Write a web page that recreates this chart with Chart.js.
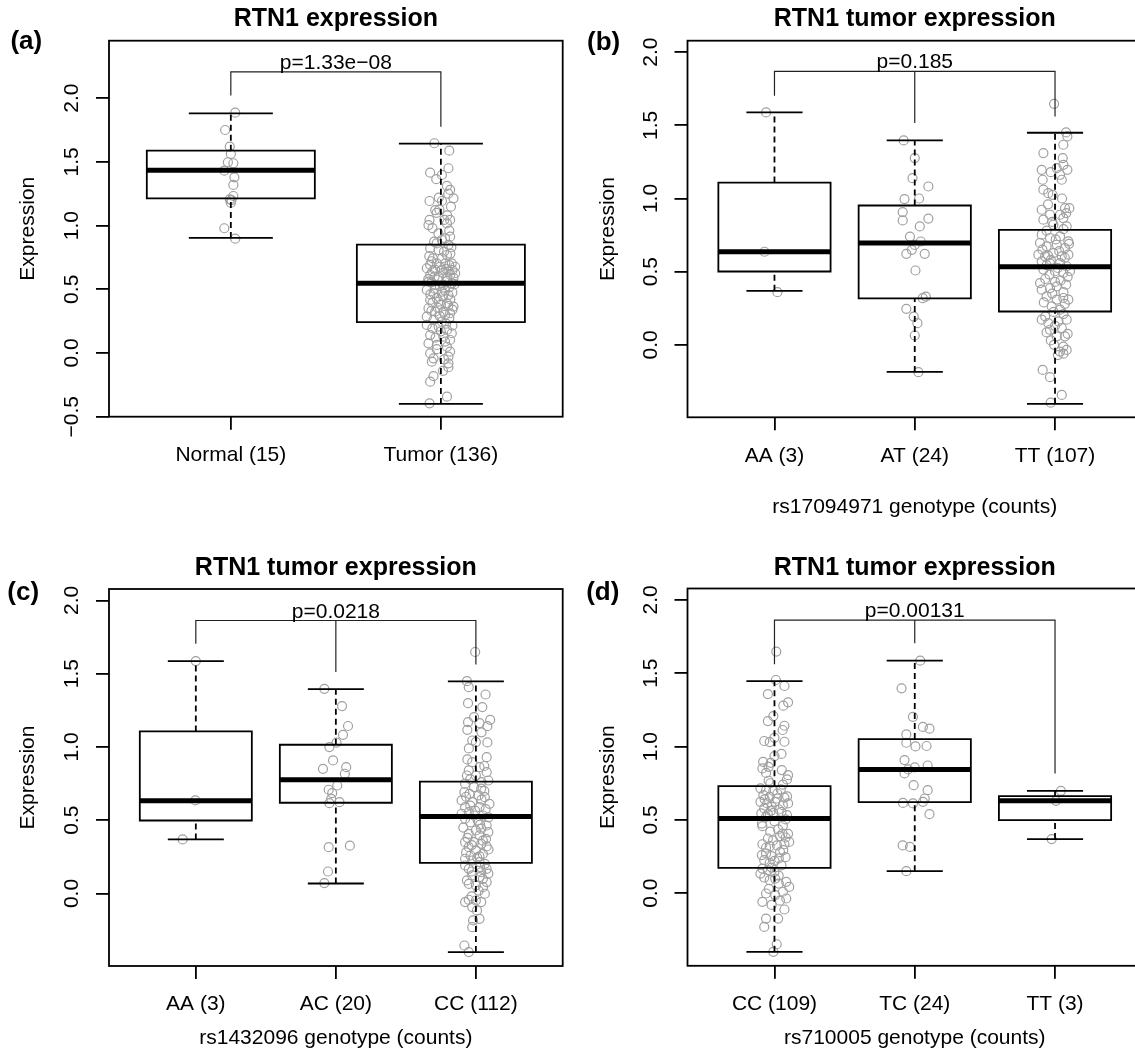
<!DOCTYPE html>
<html><head><meta charset="utf-8">
<script src="https://cdn.jsdelivr.net/npm/chart.js"></script>
<style>
html,body{margin:0;padding:0;background:#fff;overflow:hidden;}
#wrap{position:relative;width:1135px;height:1053px;overflow:hidden;background:#fff;}
#wrap canvas{position:absolute;}
.plab{position:absolute;font:bold 26px "Liberation Sans",Arial,Helvetica,sans-serif;line-height:26px;color:#000;white-space:nowrap;}
</style></head><body>
<div id="wrap">
<div class="plab" style="left:10.4px;top:27.3px">(a)</div>
<div class="plab" style="left:587px;top:28.1px">(b)</div>
<div class="plab" style="left:7.3px;top:578.3px">(c)</div>
<div class="plab" style="left:586.2px;top:578.1px">(d)</div>
</div>
<script>
// ---------------- DATA ----------------
// (a) RTN1 expression
const aCategories = ['Normal (15)', 'Tumor (136)'];
const aYTicks = [-0.5, 0, 0.5, 1, 1.5, 2];
const aYTickLabels = ['\u22120.5', '0.0', '0.5', '1.0', '1.5', '2.0'];
const aYRange = [-0.5, 2.451];
const aLow = [0.903, -0.400];
const aQ1 = [1.214, 0.243];
const aMedian = [1.434, 0.547];
const aQ3 = [1.588, 0.850];
const aHigh = [1.881, 1.643];
const aBracketY = 2.206;
const aBracketEnds = [2.02, 1.776];
const aPText = 'p=1.33e\u221208';
const aNormalY = [1.886,1.750,1.620,1.562,1.497,1.489,1.431,1.379,1.319,1.232,1.206,1.180,1.200,0.979,0.897];
const aNormalJit = [0.021,-0.027,-0.005,0.000,-0.014,0.012,-0.031,0.017,0.012,0.012,-0.005,0.000,0.003,-0.031,0.021];
const aTumorY = [
1.646,1.588,1.415,1.450,1.364,1.397,1.311,1.280,1.214,1.193,
1.193,1.148,1.122,1.125,1.044,1.044,1.044,1.004,1.017,0.939,
0.913,0.874,0.887,0.848,0.822,0.808,0.769,0.743,0.743,0.691,
0.704,0.704,0.704,0.677,0.665,0.652,0.652,0.638,0.612,0.626,
0.599,0.586,0.560,0.534,0.534,0.547,0.495,0.469,0.481,0.455,
0.416,0.403,0.390,0.364,0.351,0.324,0.324,0.312,0.285,0.259,
0.246,0.220,0.207,0.181,0.155,0.141,0.128,0.102,0.076,0.063,
0.049,0.010,-0.003,-0.042,-0.029,-0.068,-0.081,-0.112,-0.181,-0.225,
-0.343,-0.395,
0.720,0.690,0.675,0.660,0.640,0.628,0.615,0.600,0.590,0.575,
0.565,0.555,0.540,0.525,0.515,0.505,0.490,0.475,0.460,0.445,
0.430,0.420,0.395,0.380,0.370,0.355,0.340,0.330,0.300,0.290,
0.270,0.230,0.215,0.195,0.170,0.120,0.090,0.030,0.780,0.760,
0.795,0.830,0.860,0.900,0.960,0.980,1.080,1.100,1.220,1.250,
-0.050,-0.140,0.650,0.580];
const aTumorJit = [
-0.031,0.040,-0.051,0.036,-0.022,0.005,0.029,0.044,0.060,-0.054,
0.005,0.048,-0.027,-0.007,-0.054,0.016,0.044,-0.059,0.029,-0.012,
0.044,-0.032,0.005,0.036,-0.051,-0.011,0.029,-0.038,0.005,-0.051,
-0.019,0.021,0.052,0.068,-0.067,-0.027,0.005,0.036,-0.051,0.068,
-0.011,0.029,-0.059,-0.027,0.012,0.052,-0.067,-0.035,0.005,0.036,
-0.051,-0.011,0.029,0.060,-0.059,-0.027,0.012,0.044,-0.067,-0.035,
0.005,-0.067,-0.011,0.029,0.052,-0.051,0.012,0.044,-0.059,-0.019,
0.029,0.044,-0.051,-0.035,0.036,-0.043,0.036,0.036,-0.035,-0.051,
0.029,-0.054,
-0.045,0.040,-0.005,0.025,-0.040,0.010,0.045,-0.030,0.060,-0.015,
0.030,-0.045,0.065,-0.005,0.040,-0.030,0.020,0.055,-0.050,0.010,
-0.020,0.045,-0.040,0.000,0.035,-0.015,0.055,-0.045,0.020,-0.005,
0.040,0.025,0.055,-0.040,0.000,-0.025,0.020,-0.020,0.045,-0.055,
0.015,0.050,-0.020,0.020,0.040,-0.040,0.030,-0.020,-0.010,0.035,
0.015,0.010,0.055,-0.060];

// shared tick set for tumor-genotype panels
const gYTicks = [0, 0.5, 1, 1.5, 2];
const gYTickLabels = ['0.0', '0.5', '1.0', '1.5', '2.0'];
const gYRange = [-0.495, 2.078];

// (b) rs17094971
const bCategories = ['AA (3)', 'AT (24)', 'TT (107)'];
const bLow = [0.369, -0.185, -0.403];
const bQ1 = [0.501, 0.317, 0.228];
const bMedian = [0.636, 0.695, 0.533];
const bQ3 = [1.109, 0.952, 0.786];
const bHigh = [1.588, 1.397, 1.449];
const bBracketY = 1.868;
const bBracketEnds = [1.702, 1.515, 1.56];
const bPText = 'p=0.185';
const bAAY = [1.588, 0.636, 0.360];
const bAAJit = [-0.060, -0.071, 0.021];
const bATY = [1.397,1.276,1.139,1.082,0.996,1.000,0.907,0.850,0.863,0.809,0.740,0.706,0.683,0.649,0.622,0.622,0.508,0.319,0.330,0.246,0.193,0.148,0.064,-0.187];
const bATJit = [-0.079,0,-0.016,0.097,-0.073,0.031,-0.086,-0.086,0.097,0.036,-0.034,0.043,0,-0.021,-0.060,0.071,0.005,0.057,0.079,-0.060,-0.007,0.019,0,0.026];
const bTTY = [
1.647,1.451,1.424,1.367,1.310,1.276,1.196,1.208,1.196,1.162,
1.128,1.128,1.060,1.036,1.025,0.923,0.934,0.934,0.889,0.889,
0.855,0.866,0.821,0.810,0.753,0.730,0.741,0.707,0.696,0.673,
0.684,0.661,0.616,0.605,0.627,0.605,0.616,0.571,0.559,0.559,
0.537,0.514,0.503,0.491,0.503,0.422,0.377,0.388,0.400,0.411,
0.331,0.309,0.320,0.309,0.263,0.240,0.172,0.149,0.161,0.172,
0.103,0.115,0.058,0.058,0.000,-0.012,-0.035,-0.046,-0.171,-0.221,
-0.342,-0.395,
0.720,0.650,0.640,0.595,0.580,0.545,0.525,0.480,0.465,0.450,
0.440,0.430,0.360,0.350,0.290,0.280,0.225,0.210,0.195,0.130,
0.085,0.075,0.030,-0.060,-0.070,0.780,0.790,0.840,0.900,0.960,
1.000,1.230,1.180,0.690,0.610];
const bTTJit = [
-0.007,0.079,0.088,0.059,-0.083,0.055,-0.095,0.012,0.088,0.036,
-0.088,0.048,-0.083,-0.048,-0.017,-0.095,0.071,0.102,-0.036,0.036,
-0.083,0.059,-0.012,0.083,-0.095,-0.036,0.036,0.095,-0.107,-0.060,
0.012,0.071,-0.119,-0.071,-0.012,0.048,0.095,-0.095,-0.036,0.036,
0.083,-0.083,0.000,0.059,0.107,-0.107,-0.095,-0.036,0.012,0.079,
-0.060,0.012,0.059,0.095,-0.024,0.036,-0.095,-0.048,0.024,0.083,
-0.036,0.048,0.012,0.071,-0.007,0.059,0.083,0.036,-0.088,-0.036,
0.048,-0.031,
0.005,-0.090,0.030,0.070,-0.030,-0.060,0.020,-0.040,0.090,-0.070,
0.040,0.000,0.060,-0.020,-0.080,0.070,-0.010,0.060,-0.070,0.000,
-0.060,0.090,-0.030,0.060,0.020,-0.060,0.060,-0.020,0.080,-0.050,
0.050,0.060,-0.030,0.100,-0.050];

// (c) rs1432096
const cCategories = ['AA (3)', 'AC (20)', 'CC (112)'];
const cLow = [0.369, 0.068, -0.400];
const cQ1 = [0.498, 0.619, 0.209];
const cMedian = [0.633, 0.776, 0.526];
const cQ3 = [1.106, 1.015, 0.764];
const cHigh = [1.586, 1.395, 1.447];
const cBracketY = 1.863;
const cBracketEnds = [1.705, 1.511, 1.562];
const cPText = 'p=0.0218';
const cAAY = [1.586, 0.635, 0.369];
const cAAJit = [0.000, -0.003, -0.094];
const cACY = [1.397,1.279,1.143,1.083,1.029,0.999,0.908,0.851,0.862,0.817,0.737,0.708,0.685,0.646,0.623,0.616,0.316,0.326,0.150,0.071];
const cACJit = [-0.082,0.044,0.087,0.051,0.005,-0.046,-0.020,-0.092,0.074,0.064,0.010,-0.051,-0.026,-0.033,0.026,-0.046,-0.051,0.100,-0.056,-0.082];
const cCCY = [
1.648,1.449,1.408,1.358,1.299,1.272,1.203,1.185,1.169,1.163,
1.142,1.117,1.044,1.033,1.031,0.930,0.915,0.896,0.862,0.840,
0.828,0.805,0.805,0.771,0.749,0.726,0.715,0.691,0.680,0.669,
0.657,0.635,0.623,0.612,0.589,0.589,0.555,0.544,0.532,0.532,
0.510,0.498,0.464,0.442,0.419,0.407,0.396,0.373,0.350,0.350,
0.339,0.316,0.321,0.294,0.259,0.253,0.237,0.225,0.214,0.191,
0.202,0.168,0.168,0.145,0.136,0.123,0.112,0.089,0.078,0.055,
0.043,-0.002,-0.043,-0.048,-0.059,-0.059,-0.093,-0.116,-0.173,-0.184,
-0.230,-0.355,-0.400,
0.700,0.660,0.640,0.600,0.575,0.565,0.520,0.485,0.470,0.450,
0.430,0.380,0.360,0.330,0.300,0.280,0.270,0.245,0.180,0.150,
0.100,0.065,0.020,0.780,0.760,0.870,0.990,1.100,-0.020];
const cCCJit = [
-0.005,-0.064,-0.051,0.069,-0.056,0.046,-0.013,0.102,-0.056,0.026,
0.082,-0.061,-0.026,0.000,0.082,0.077,-0.061,-0.026,0.026,-0.051,
0.077,0.000,-0.064,0.089,-0.077,-0.013,0.038,-0.082,-0.046,0.020,
0.064,-0.102,-0.026,0.097,-0.077,0.026,-0.051,-0.102,-0.013,0.051,
-0.077,0.013,0.077,0.038,0.089,-0.051,0.026,0.072,-0.077,-0.013,
0.038,-0.051,0.077,0.000,-0.038,0.026,-0.077,-0.026,0.026,-0.077,
0.064,-0.051,0.077,0.038,0.089,-0.026,0.026,-0.064,0.077,0.000,
0.051,0.064,-0.051,0.000,-0.077,0.038,-0.026,0.008,0.026,-0.020,
-0.026,-0.082,-0.051,
0.060,-0.070,0.040,-0.040,0.070,-0.005,0.090,-0.040,0.030,-0.090,
0.000,-0.060,0.050,-0.030,0.090,-0.070,0.050,0.010,0.030,-0.030,
0.050,-0.050,0.020,-0.040,0.040,0.060,-0.050,0.040,-0.030];

// (d) rs710005
const dCategories = ['CC (109)', 'TC (24)', 'TT (3)'];
const dLow = [-0.400, 0.150, 0.369];
const dQ1 = [0.173, 0.621, 0.498];
const dMedian = [0.510, 0.844, 0.630];
const dQ3 = [0.730, 1.051, 0.662];
const dHigh = [1.447, 1.586, 0.698];
const dBracketY = 1.863;
const dBracketEnds = [1.562, 1.705, 0.817];
const dPText = 'p=0.00131';
const dCCY = [
1.648,1.454,1.413,1.358,1.302,1.279,1.208,1.174,1.142,1.113,
1.038,1.031,1.033,0.935,0.896,0.889,0.851,0.862,0.840,0.805,
0.776,0.767,0.715,0.703,0.698,0.708,0.669,0.657,0.646,0.652,
0.623,0.612,0.623,0.612,0.578,0.562,0.571,0.544,0.539,0.548,
0.532,0.503,0.457,0.435,0.407,0.405,0.390,0.373,0.334,0.321,
0.326,0.334,0.350,0.294,0.271,0.253,0.237,0.246,0.225,0.207,
0.168,0.157,0.146,0.134,0.107,0.089,0.100,0.078,0.043,0.066,
-0.002,-0.013,-0.036,-0.051,-0.059,-0.111,-0.173,-0.173,-0.230,-0.348,
-0.400,
0.680,0.660,0.640,0.600,0.590,0.555,0.520,0.490,0.475,0.460,
0.420,0.380,0.360,0.310,0.280,0.260,0.220,0.190,0.175,0.120,
0.030,0.010,0.740,0.750,0.950,1.060,-0.080,0.820];
const dCCJit = [
0.013,0.010,0.071,-0.047,0.097,0.063,-0.008,-0.047,0.071,0.058,
-0.073,-0.034,0.071,0.000,-0.081,-0.026,-0.086,-0.042,0.052,0.097,
0.089,-0.042,-0.100,-0.060,-0.008,0.045,-0.079,-0.034,0.018,0.071,
-0.100,-0.052,0.005,0.097,-0.073,-0.026,0.031,-0.094,-0.047,-0.008,
0.089,0.079,-0.086,0.026,0.058,0.097,0.039,-0.047,-0.086,-0.034,
0.018,0.071,0.105,0.063,-0.060,-0.021,0.031,0.079,-0.073,-0.034,
-0.086,-0.047,0.000,-0.100,-0.073,-0.034,0.005,0.084,0.105,0.031,
-0.060,0.005,0.084,0.039,-0.086,0.071,0.026,-0.060,-0.073,0.016,
-0.008,
0.020,0.090,-0.070,0.060,-0.020,0.050,-0.060,0.000,-0.090,0.060,
-0.030,0.080,-0.010,-0.060,0.040,-0.090,0.000,0.050,-0.020,0.030,
-0.040,0.060,0.060,-0.030,0.050,0.000,-0.020,-0.060];
const dTCY = [1.586,1.397,1.203,1.134,1.122,1.083,1.026,1.001,1.004,0.908,0.858,0.871,0.817,0.844,0.737,0.703,0.646,0.616,0.612,0.623,0.539,0.326,0.316,0.150];
const dTCJit = [0.039,-0.094,-0.013,0.058,0.105,-0.060,-0.060,0.005,0.084,-0.073,0,0.092,-0.073,-0.047,-0.008,0.092,0.071,-0.084,-0.013,0.058,0.105,-0.086,-0.034,-0.060];
const dTTY = [0.698, 0.630, 0.369];
const dTTJit = [0.042, 0.007, -0.024];

// ---------------- STYLE / LAYOUT ----------------
const FONT = '"Liberation Sans", Arial, Helvetica, sans-serif';
const BASE = 21, TITLE_SIZE = 25;
const BOX_HALF = 0.4, STAPLE_HALF = 0.2;
const PT_COLOR = '#a0a0a0';
Chart.defaults.font.family = FONT;
Chart.defaults.color = '#000';

function measureWidest(labels) {
  const c = document.createElement('canvas').getContext('2d');
  c.font = BASE + 'px ' + FONT;
  return Math.max(...labels.map(s => c.measureText(s).width));
}

const framePlugin = {
  id: 'rframe',
  afterDraw(chart, args, opts) {
    const {ctx, chartArea: a, scales} = chart;
    ctx.save();
    ctx.lineWidth = 1.8; ctx.strokeStyle = '#000';
    ctx.strokeRect(a.left, a.top, a.right - a.left, a.bottom - a.top);
    ctx.font = BASE + 'px ' + FONT;
    ctx.fillStyle = '#000'; ctx.textAlign = 'center'; ctx.textBaseline = 'alphabetic';
    ctx.fillText(opts.text, scales.x.getPixelForValue(opts.x), scales.y.getPixelForValue(opts.y) - 3);
    ctx.restore();
  }
};

function buildPanel(p) {
  const L = p.layout;
  const cv = document.createElement('canvas');
  cv.width = L.W; cv.height = L.H;
  cv.style.left = L.left + 'px'; cv.style.top = L.top + 'px';
  cv.style.width = L.W + 'px'; cv.style.height = L.H + 'px';
  document.getElementById('wrap').insertBefore(cv, document.getElementById('wrap').firstChild);
  const n = p.categories.length;
  const ds = [];
  p.groupY.forEach((vals, i) => {
    ds.push({
      data: vals.map((v, k) => ({x: i + 1 + p.groupJit[i][k], y: v})),
      showLine: false, pointRadius: 4.5, pointHoverRadius: 4.5, pointBorderWidth: 1.2,
      pointBorderColor: PT_COLOR, pointBackgroundColor: 'rgba(0,0,0,0)', order: 5
    });
  });
  const seg = (pts, extra) => Object.assign({
    data: pts, showLine: true, pointRadius: 0, pointHoverRadius: 0, borderColor: '#000', borderWidth: 1.8,
    fill: false, tension: 0, borderCapStyle: 'butt', borderJoinStyle: 'miter', order: 2
  }, extra || {});
  for (let i = 0; i < n; i++) {
    const c = i + 1;
    ds.push(seg([{x: c, y: p.q3[i]}, {x: c, y: p.high[i]}], {borderDash: [6, 4], order: 3}));
    ds.push(seg([{x: c, y: p.low[i]}, {x: c, y: p.q1[i]}], {borderDash: [6, 4], order: 3}));
    ds.push(seg([{x: c - STAPLE_HALF, y: p.high[i]}, {x: c + STAPLE_HALF, y: p.high[i]}]));
    ds.push(seg([{x: c - STAPLE_HALF, y: p.low[i]}, {x: c + STAPLE_HALF, y: p.low[i]}]));
    ds.push(seg([{x: c - BOX_HALF, y: p.q1[i]}, {x: c + BOX_HALF, y: p.q1[i]}, {x: c + BOX_HALF, y: p.q3[i]},
                 {x: c - BOX_HALF, y: p.q3[i]}, {x: c - BOX_HALF, y: p.q1[i]}], {borderCapStyle: 'square'}));
    ds.push(seg([{x: c - BOX_HALF, y: p.median[i]}, {x: c + BOX_HALF, y: p.median[i]}], {borderWidth: 5, order: 1}));
  }
  // significance bracket
  const bracketStyle = {borderColor: '#222', borderWidth: 1.2, order: 0};
  ds.push(seg([{x: 1, y: p.bracketEnds[0]}, {x: 1, y: p.bracketY}, {x: n, y: p.bracketY}, {x: n, y: p.bracketEnds[n - 1]}], bracketStyle));
  for (let i = 1; i < n - 1; i++) {
    ds.push(seg([{x: i + 1, y: p.bracketY}, {x: i + 1, y: p.bracketEnds[i]}], bracketStyle));
  }
  const widest = measureWidest(p.yTickLabels);
  const gridOpts = {display: true, drawOnChartArea: false, drawTicks: true, tickLength: 13, color: '#000', lineWidth: 1.8};
  const titleTop = L.titleMid - TITLE_SIZE * 0.6;
  new Chart(cv, {
    type: 'scatter',
    data: {datasets: ds},
    options: {
      responsive: false, animation: false, devicePixelRatio: 1, events: [],
      layout: {padding: {left: 0, top: 0, bottom: 0, right: L.W - L.areaRight}, autoPadding: false},
      plugins: {
        legend: {display: false}, tooltip: {enabled: false},
        title: {display: true, text: p.title, color: '#000', fullSize: false,
                font: {size: TITLE_SIZE, weight: 'bold', family: FONT},
                padding: {top: titleTop, bottom: L.areaTop - titleTop - TITLE_SIZE * 1.2}},
        rframe: {text: p.pText, x: (1 + n) / 2, y: p.bracketY}
      },
      scales: {
        x: {
          type: 'linear', position: 'bottom',
          min: 0.5 - 0.04 * n, max: n + 0.5 + 0.04 * n,
          afterBuildTicks: s => { s.ticks = p.categories.map((_, i) => ({value: i + 1})); },
          afterFit: s => { s.height = L.H - L.areaBottom; s.paddingLeft = 0; s.paddingRight = 0; },
          ticks: {autoSkip: false, maxRotation: 0, minRotation: 0, padding: L.xLabelMid - L.areaBottom - 13 - BASE * 0.6,
                  color: '#000', font: {size: BASE, family: FONT}, callback: (v, i) => p.categories[i]},
          grid: gridOpts, border: {display: false},
          title: p.xTitle ? {display: true, text: p.xTitle, color: '#000', font: {size: BASE, family: FONT},
                             padding: {top: 0, bottom: L.H - L.xTitleMid - BASE * 0.6}} : {display: false}
        },
        y: {
          type: 'linear', position: 'left',
          min: p.yRange[0], max: p.yRange[1],
          afterBuildTicks: s => { s.ticks = p.yTicks.map(v => ({value: v})); },
          afterFit: s => { s.width = L.areaLeft; s.paddingTop = 0; s.paddingBottom = 0; },
          ticks: {autoSkip: false, minRotation: 90, maxRotation: 90, crossAlign: 'center',
                  padding: L.yLabelGap - 13 - widest / 2, color: '#000', font: {size: BASE, family: FONT},
                  callback: (v, i) => p.yTickLabels[i]},
          grid: gridOpts, border: {display: false},
          title: {display: true, text: 'Expression', color: '#000', font: {size: BASE, family: FONT},
                  padding: {top: L.yTitleMid - BASE * 0.6, bottom: 0}}
        }
      }
    },
    plugins: [framePlugin]
  });
}

buildPanel({
  layout: {left: 0, top: 0, W: 578, H: 548, areaLeft: 109, areaTop: 40.7, areaRight: 562.7, areaBottom: 416.7,
           titleMid: 19.3, xLabelMid: 455.7, yLabelGap: 36.5, yTitleMid: 28.5},
  title: 'RTN1 expression', xTitle: null, categories: aCategories,
  yTicks: aYTicks, yTickLabels: aYTickLabels, yRange: aYRange,
  low: aLow, q1: aQ1, median: aMedian, q3: aQ3, high: aHigh,
  groupY: [aNormalY, aTumorY], groupJit: [aNormalJit, aTumorJit],
  bracketY: aBracketY, bracketEnds: aBracketEnds, pText: aPText
});
buildPanel({
  layout: {left: 578, top: 0, W: 578, H: 548, areaLeft: 109.5, areaTop: 40.7, areaRight: 564, areaBottom: 417.3,
           titleMid: 19.3, xLabelMid: 456.2, yLabelGap: 36.5, yTitleMid: 30.4, xTitleMid: 507.5},
  title: 'RTN1 tumor expression', xTitle: 'rs17094971 genotype (counts)', categories: bCategories,
  yTicks: gYTicks, yTickLabels: gYTickLabels, yRange: gYRange,
  low: bLow, q1: bQ1, median: bMedian, q3: bQ3, high: bHigh,
  groupY: [bAAY, bATY, bTTY], groupJit: [bAAJit, bATJit, bTTJit],
  bracketY: bBracketY, bracketEnds: bBracketEnds, pText: bPText
});
buildPanel({
  layout: {left: 0, top: 548, W: 578, H: 505, areaLeft: 109, areaTop: 41, areaRight: 562.7, areaBottom: 418,
           titleMid: 19.8, xLabelMid: 456.5, yLabelGap: 36.5, yTitleMid: 28.5, xTitleMid: 490.5},
  title: 'RTN1 tumor expression', xTitle: 'rs1432096 genotype (counts)', categories: cCategories,
  yTicks: gYTicks, yTickLabels: gYTickLabels, yRange: gYRange,
  low: cLow, q1: cQ1, median: cMedian, q3: cQ3, high: cHigh,
  groupY: [cAAY, cACY, cCCY], groupJit: [cAAJit, cACJit, cCCJit],
  bracketY: cBracketY, bracketEnds: cBracketEnds, pText: cPText
});
buildPanel({
  layout: {left: 578, top: 548, W: 578, H: 505, areaLeft: 109.5, areaTop: 40.5, areaRight: 564, areaBottom: 417.8,
           titleMid: 19.8, xLabelMid: 456.5, yLabelGap: 36.5, yTitleMid: 30.4, xTitleMid: 490.5},
  title: 'RTN1 tumor expression', xTitle: 'rs710005 genotype (counts)', categories: dCategories,
  yTicks: gYTicks, yTickLabels: gYTickLabels, yRange: gYRange,
  low: dLow, q1: dQ1, median: dMedian, q3: dQ3, high: dHigh,
  groupY: [dCCY, dTCY, dTTY], groupJit: [dCCJit, dTCJit, dTTJit],
  bracketY: dBracketY, bracketEnds: dBracketEnds, pText: dPText
});
</script>
</body></html>
